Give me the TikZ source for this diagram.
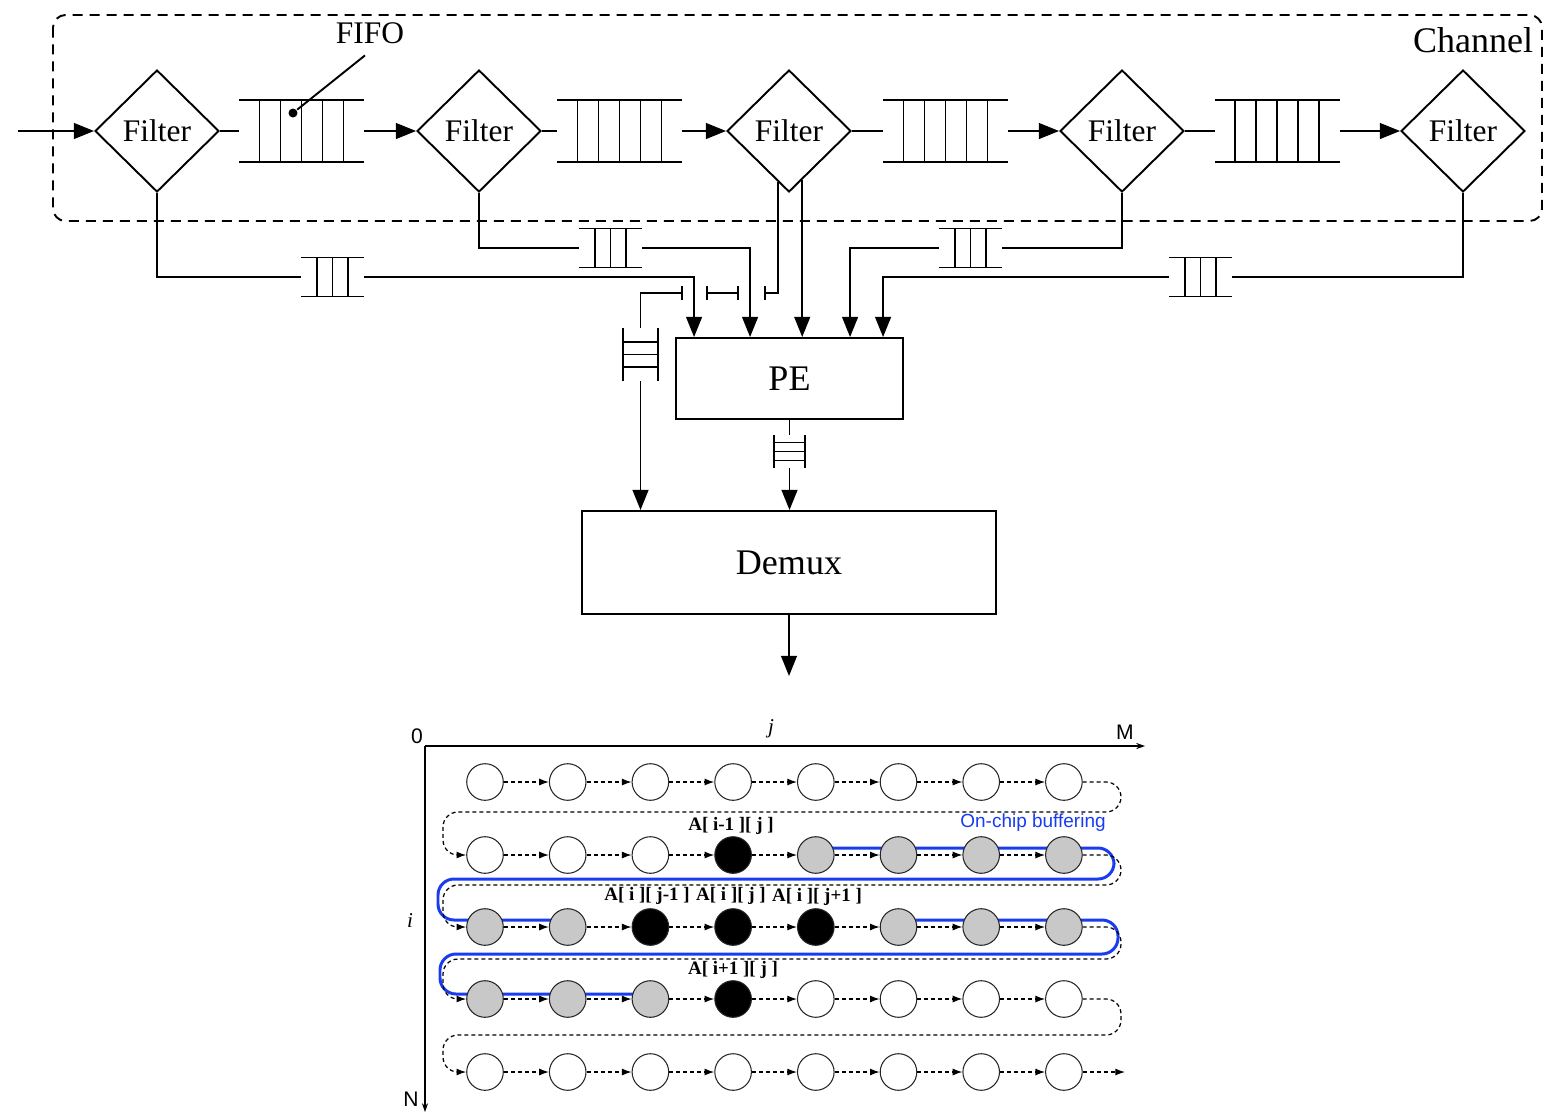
\documentclass[tikz,border=0pt]{standalone}
\usepackage{fontspec}
\setmainfont{Liberation Serif}
\setsansfont{Liberation Sans}
\usetikzlibrary{arrows.meta, shapes.geometric, calc, backgrounds}

\definecolor{bufblue}{RGB}{25,60,240}
\definecolor{cellgray}{RGB}{200,200,200}

% queue with cells across (horizontal) or along (vertical)
\newcommand{\hqueue}[2]{%
  \draw (#1.north west) -- (#1.north east) (#1.south west) -- (#1.south east);
  \foreach \d in {#2} {\draw ([xshift=\d*0.02cm]#1.north) -- ([xshift=\d*0.02cm]#1.south);}}
\newcommand{\vqueue}[2]{%
  \draw (#1.north west) -- (#1.south west) (#1.north east) -- (#1.south east);
  \foreach \d in {#2} {\draw ([yshift=\d*0.02cm]#1.west) -- ([yshift=\d*0.02cm]#1.east);}}

\begin{document}
\begin{tikzpicture}[x=0.02cm, y=-0.02cm, line width=1.1pt,
    filter/.style={diamond, draw, minimum width=2.48cm, minimum height=2.44cm, inner sep=0,
      font=\fontsize{17.9}{20}\selectfont},
    unit/.style={rectangle, draw, font=\fontsize{20.5}{24}\selectfont},
    queue/.style={rectangle, inner sep=0, outer sep=0},
    bigq/.style={queue, minimum width=2.5cm, minimum height=1.24cm},
    smallq/.style={queue, minimum width=1.26cm, minimum height=0.78cm},
    arr/.style={-{Triangle[length=11.5pt,width=9pt]}},
    stub/.style={-{Bar[width=8pt]}},
    cell/.style={circle, draw=black!85, line width=0.6pt, minimum size=0.732cm, inner sep=0},
    cellW/.style={cell, fill=white},
    cellG/.style={cell, fill=cellgray},
    cellB/.style={cell, fill=black},
    flow/.style={line width=0.7pt, dash pattern=on 0.08cm off 0.06cm, -{Latex[length=5.5pt,width=4pt]}},
    buf/.style={draw=bufblue, line width=1.7pt, rounded corners=0.32cm},
    axis/.style={line width=0.6pt, -{Stealth[length=5pt,width=3.5pt]}},
    tag/.style={font=\fontsize{10.8}{12}\selectfont\bfseries, inner sep=0},
    axlbl/.style={font=\sffamily\fontsize{12}{14}\selectfont, inner sep=0},
  ]
  \useasboundingbox (0,0) rectangle (1545,1113);

  % channel
  \draw[dash pattern=on 0.2cm off 0.14cm, rounded corners=0.25cm] (53,15) rectangle (1542,221);
  \node[font=\fontsize{20.5}{24}\selectfont] (chan) at (1473,40) {Channel};

  \node[filter] (f1) at (157,131) {Filter};
  \node[filter] (f2) at (479,131) {Filter};
  \node[filter] (f3) at (789,131) {Filter};
  \node[filter] (f4) at (1122,131) {Filter};
  \node[filter] (f5) at (1463,131) {Filter};

  \foreach \n/\x in {q1/301.5, q2/619.5, q3/945.5, q4/1277} {
    \node[bigq] (\n) at (\x,131) {};
    \hqueue{\n}{-42,-21,0,21,42}
  }

  \coordinate (src) at (18,131);
  \draw[arr] (src) -- (f1.west);
  \foreach \a/\q/\b in {f1/q1/f2, f2/q2/f3, f3/q3/f4, f4/q4/f5} {
    \draw (\a.east) -- (\q.west);
    \draw[arr] (\q.east) -- (\b.west);
  }

  \node[font=\fontsize{17.9}{20}\selectfont] (fifo) at (370,33) {FIFO};
  \node[circle, fill, inner sep=0, minimum size=0.18cm] (fdot) at (293,113) {};
  \draw ($(fifo.south)+(-5,5)$) -- (fdot);

  % PE and demux
  \node[unit, minimum width=4.54cm, minimum height=1.62cm] (pe) at (789.5,378.5) {PE};
  \node[unit, minimum width=8.28cm, minimum height=2.06cm] (dmx) at (789,562.5) {Demux};
  \foreach \n/\dx in {p1/19, p2/75, p3/126, p4/175, p5/208}
    \coordinate (\n) at ($(pe.north west)+(\dx,0)$);

  \node[smallq] (s1) at (332.5,277) {};
  \node[smallq] (s2) at (610.5,248) {};
  \node[smallq] (s3) at (970.5,248) {};
  \node[smallq] (s4) at (1200.5,277) {};
  \foreach \n in {s1,s2,s3,s4} {\hqueue{\n}{-15.5,0,15.5}}

  \draw (f1.south) |- (s1.west);
  \draw[arr] (s1.east) -| (p1);
  \draw (f2.south) |- (s2.west);
  \draw[arr] (s2.east) -| (p2);
  \draw (f4.south) |- (s3.east);
  \draw[arr] (s3.west) -| (p4);
  \draw (f5.south) |- (s4.east);
  \draw[arr] (s4.west) -| (p5);

  \coordinate (f3l) at ($(f3.south)!0.18!(f3.west)$);
  \coordinate (f3r) at ($(f3.south)!0.21!(f3.east)$);
  \draw[arr] (f3r) -- (f3r |- p3);

  \node[queue, minimum width=0.7cm, minimum height=1.06cm] (v1) at (640.5,354.5) {};
  \vqueue{v1}{-12.5,0,12.5}
  \node[queue, minimum width=0.62cm, minimum height=0.66cm] (v2) at (789.5,451.5) {};
  \vqueue{v2}{-9,0,9}

  \coordinate (t1) at (683,293);
  \coordinate (t2a) at (706,293);
  \coordinate (t2b) at (739,293);
  \coordinate (t3) at (764,293);
  \draw[stub] (v1.north) |- (t1);
  \draw[{Bar[width=8pt]}-{Bar[width=8pt]}] (t2a) -- (t2b);
  \draw[stub] (f3l) |- (t3);

  \draw[arr] (v1.south) -- (v1.south |- dmx.north);
  \draw (pe.south) -- (v2.north);
  \draw[arr] (v2.south) -- (v2.south |- dmx.north);
  \coordinate (sink) at (789,676);
  \draw[arr] (dmx.south) -- (sink);

  % access pattern
  \coordinate (o) at (425,746);
  \coordinate (mend) at (1145,746);
  \coordinate (nend) at (425,1112);
  \draw[axis] (o) -- (mend);
  \draw[axis] (o) -- (nend);
  \node[axlbl] (zero) at (417,736) {0};
  \node[axlbl] (mlbl) at (1125,732) {M};
  \node[axlbl] (nlbl) at (411,1099) {N};
  \node[font=\fontsize{12}{14}\selectfont\itshape] (jlbl) at (771,729) {j};
  \node[font=\fontsize{12}{14}\selectfont\itshape] (ilbl) at (410,921) {i};

  \foreach \r/\y/\fills in {1/782/{W,W,W,W,W,W,W,W}, 2/855/{W,W,W,B,G,G,G,G},
      3/927/{G,G,B,B,B,G,G,G}, 4/999/{G,G,G,B,W,W,W,W}, 5/1072/{W,W,W,W,W,W,W,W}} {
    \foreach \f [count=\k] in \fills {
      \node[cell\f] (c\r-\k) at ({485+82.7*(\k-1)},\y) {};
    }
    \foreach \k [evaluate=\k as \n using int(\k+1)] in {1,...,7} {
      \draw[flow] (c\r-\k) -- (c\r-\n);
    }
  }
  \foreach \a/\b/\ya/\ym/\yb in {1/2/782/812/855, 2/3/855/885/927, 3/4/927/959/999, 4/5/999/1035/1072} {
    \draw[flow, rounded corners=0.3cm] (c\a-8.east) -- (1121,\ya) -- (1121,\ym)
      -- (443,\ym) -- (443,\yb) -- (c\b-1.west);
  }
  \coordinate (tail) at (1125,1072);
  \draw[flow] (c5-8) -- (tail);

  \begin{pgfonlayer}{background}
    \draw[buf] ($(c2-5)+(0,-7)$) -- (1114,848) -- (1114,879) -- (438,879) -- (438,920) -- ($(c3-2)+(0,-7)$);
    \draw[buf] ($(c3-6)+(0,-7)$) -- (1118,920) -- (1118,954) -- (440,954) -- (440,994) -- ($(c4-3)+(0,-5)$);
  \end{pgfonlayer}

  \node[tag] (la) at (731,826) {A[ i-1 ][ j ]};
  \node[tag] (lb) at (647,896) {A[ i ][ j-1 ]};
  \node[tag] (lc) at (731,896) {A[ i ][ j ]};
  \node[tag] (ld) at (817,897) {A[ i ][ j+1 ]};
  \node[tag] (le) at (733,970) {A[ i+1 ][ j ]};
  \node[font=\sffamily\fontsize{10.8}{12}\selectfont, text=bufblue, inner sep=0] (buflbl) at (1033,823) {On-chip buffering};
\end{tikzpicture}
\end{document}
